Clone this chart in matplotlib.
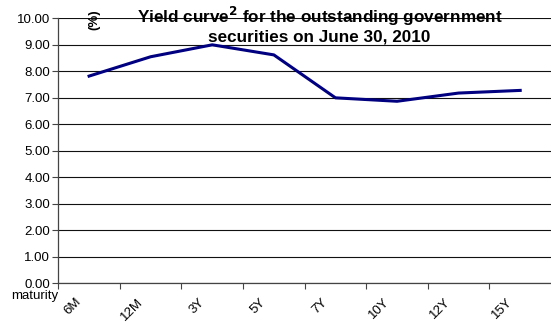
import numpy as np
import matplotlib
matplotlib.use("Agg")
import matplotlib.pyplot as plt
import matplotlib.transforms as mtransforms

plt.rcParams['font.family'] = ['Liberation Sans', 'DejaVu Sans']

maturities = ["6M", "12M", "3Y", "5Y", "7Y", "10Y", "12Y", "15Y"]
yields = [7.82, 8.55, 9.00, 8.62, 7.00, 6.87, 7.18, 7.28]

fig = plt.figure(figsize=(5.51, 3.26), dpi=100)
ax = fig.add_axes([0.1058, 0.1309, 0.8942, 0.8129])

x = np.arange(len(maturities))
ax.plot(x, yields, color="#000080", linewidth=2.2, solid_joinstyle="round")

ax.set_xlim(-0.5, 7.5)
ax.set_ylim(0, 10)
ax.set_yticks(np.arange(0, 10.01, 1.0))
ax.set_yticklabels(["%.2f" % v for v in np.arange(0, 10.01, 1.0)], fontsize=9.5)
ax.yaxis.grid(True, color="#111111", linewidth=0.8)
ax.set_axisbelow(True)

# tick marks between categories, labels at category centres
ax.set_xticks(np.arange(-0.5, 7.5, 1.0))
ax.set_xticklabels([])
ax.set_xticks(x, minor=True)
ax.set_xticklabels(maturities, minor=True, rotation=45, ha="right",
                   rotation_mode="anchor", fontsize=9.5)
ax.tick_params(axis="x", which="minor", length=0, pad=9)
ax.tick_params(axis="x", which="major", length=4, width=0.8, color="#444444")
ax.tick_params(axis="y", length=4, width=0.8, color="#444444", pad=2)
shift = mtransforms.ScaledTranslation(-14 / 100, 0, fig.dpi_scale_trans)
for lab in ax.xaxis.get_minorticklabels():
    lab.set_transform(lab.get_transform() + shift)

for side in ["top", "right"]:
    ax.spines[side].set_visible(False)
for side in ["left", "bottom"]:
    ax.spines[side].set_color("#444444")
    ax.spines[side].set_linewidth(0.9)

fig.text(0.0635, 0.093, "maturity", fontsize=9.5, ha="center", va="center")
fig.text(0.172, 0.94, "(%)", fontsize=9.5, fontweight="bold", rotation=90,
         ha="center", va="center")
fig.text(0.58, 0.924, "Yield curve$^\\mathbf{2}$ for the outstanding government\nsecurities on June 30, 2010",
         fontsize=12.3, fontweight="bold", ha="center", va="center", linespacing=1.1)

fig.savefig("out.png", dpi=100)
